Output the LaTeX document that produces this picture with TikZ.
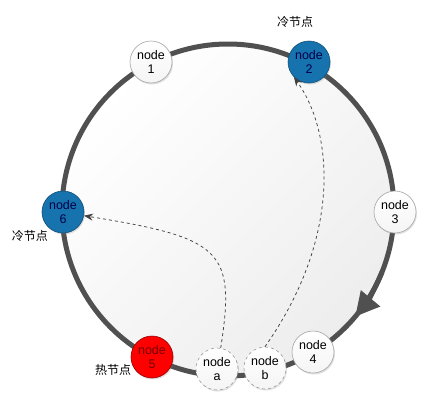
\documentclass[tikz,border=0pt]{standalone}
\usepackage{fontspec}
\setmainfont{Liberation Sans}
\newfontfamily\cjk{Noto Sans CJK SC}
\usetikzlibrary{arrows.meta,shadows}
\definecolor{ringgray}{HTML}{505050}
\definecolor{coldblue}{HTML}{1673AE}
\definecolor{hotred}{HTML}{FF0000}
\begin{document}
\begin{tikzpicture}[x=1pt, y=-1pt, font=\fontsize{12.5}{14}\selectfont,
  server/.style={circle, draw=gray!70, line width=0.6pt, minimum size=42pt,
                 inner sep=0pt, align=center, top color=white, bottom color=gray!8,
                 drop shadow={shadow xshift=1pt, shadow yshift=-1.5pt, opacity=0.25}},
  cold/.style={server, draw=coldblue!70!black, top color=coldblue, bottom color=coldblue,
               text=black!70!blue},
  hot/.style={server, draw=red!60!black, top color=hotred, bottom color=hotred,
              text=red!45!black},
  virtual/.style={server, dashed, draw=gray!80, drop shadow={opacity=0}},
  tag/.style={font=\cjk\fontsize{12}{14}\selectfont},
  move/.style={-{Stealth[length=9pt,width=7pt]}, dashed, gray!50!black, line width=0.75pt}
]
  \useasboundingbox (0,0) rectangle (426,402);
  % ring
  \shade[left color=white, right color=gray!14, shading angle=45] (228,210) circle (166);
  \draw[ringgray, line width=5pt] (228,210) circle (166);
  \draw[ringgray, line width=5pt, -{Triangle[length=24pt,width=24pt]}]
        (228,210) ++(22:166) arc[start angle=22, end angle=40, radius=166];
  % servers
  \node[server]  (n1) at (151,62)  {node\\1};
  \node[cold]    (n2) at (309,62)  {node\\2};
  \node[server]  (n3) at (395,212) {node\\3};
  \node[server]  (n4) at (313,352) {node\\4};
  \node[hot]     (n5) at (152,357) {node\\5};
  \node[cold]    (n6) at (63,212)  {node\\6};
  \node[virtual] (na) at (217,369) {node\\a};
  \node[virtual] (nb) at (265,368) {node\\b};
  % labels
  \node[tag] (t2) at (295,22)  {冷节点};
  \node[tag] (t6) at (30,236)  {冷节点};
  \node[tag] (t5) at (113,370) {热节点};
  % migration
  \draw[move] (na.80) .. controls (236,250) and (222,238) .. (n6.-10);
  \draw[move] (nb.north) .. controls (340,240) and (335,135) .. (n2.225);
\end{tikzpicture}
\end{document}
